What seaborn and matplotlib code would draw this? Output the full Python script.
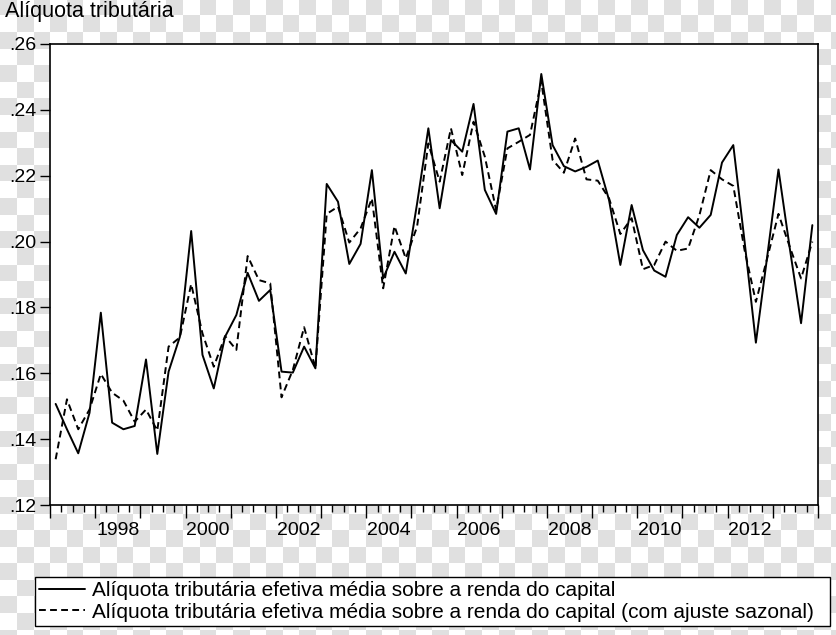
import numpy as np
import pandas as pd
import matplotlib
matplotlib.use("Agg")
import matplotlib.pyplot as plt
import seaborn as sns
from matplotlib.ticker import FixedLocator, FuncFormatter, NullFormatter

# ---------------- data ----------------
start_year = 1997
end_year = 2014
aliquota = [
    0.1507, 0.1430, 0.1357, 0.1480, 0.1784, 0.1450, 0.1430, 0.1440,
    0.1642, 0.1355, 0.1605, 0.1711, 0.2032, 0.1656, 0.1554, 0.1711,
    0.1777, 0.1905, 0.1820, 0.1853, 0.1605, 0.1602, 0.1681, 0.1615,
    0.2175, 0.2121, 0.1932, 0.1993, 0.2217, 0.1888, 0.1969, 0.1903,
    0.2115, 0.2344, 0.2101, 0.2308, 0.2273, 0.2418, 0.2157, 0.2084,
    0.2334, 0.2344, 0.2219, 0.2509, 0.2293, 0.2229, 0.2213, 0.2227,
    0.2246, 0.2126, 0.1929, 0.2111, 0.1974, 0.1912, 0.1893, 0.2020,
    0.2074, 0.2042, 0.2081, 0.2240, 0.2293, 0.2000, 0.1693, 0.1954,
    0.2219, 0.1980, 0.1752, 0.2050,
]
aliquota_sa = [
    0.1339, 0.1521, 0.1430, 0.1490, 0.1598, 0.1541, 0.1517, 0.1453,
    0.1490, 0.1426, 0.1681, 0.1709, 0.1871, 0.1721, 0.1620, 0.1713,
    0.1671, 0.1956, 0.1883, 0.1873, 0.1527, 0.1610, 0.1740, 0.1616,
    0.2084, 0.2106, 0.1997, 0.2040, 0.2131, 0.1858, 0.2047, 0.1949,
    0.2045, 0.2298, 0.2182, 0.2344, 0.2202, 0.2364, 0.2258, 0.2096,
    0.2283, 0.2303, 0.2324, 0.2486, 0.2248, 0.2209, 0.2313, 0.2189,
    0.2185, 0.2131, 0.2023, 0.2071, 0.1916, 0.1929, 0.2000, 0.1972,
    0.1979, 0.2080, 0.2217, 0.2189, 0.2169, 0.1974, 0.1817, 0.1949,
    0.2084, 0.1984, 0.1888, 0.2000,
]
label_solid = "Alíquota tributária efetiva média sobre a renda do capital"
label_dashed = "Alíquota tributária efetiva média sobre a renda do capital (com ajuste sazonal)"
axis_title = "Alíquota tributária"
yticks = [0.12, 0.14, 0.16, 0.18, 0.20, 0.22, 0.24, 0.26]
year_labels = [1998, 2000, 2002, 2004, 2006, 2008, 2010, 2012]

# quarter mid-points in year units
t = start_year + (np.arange(len(aliquota)) + 0.5) / 4.0
df = pd.DataFrame({"t": t, "solid": aliquota, "sa": aliquota_sa})

# ---------------- style ----------------
sns.set_theme(style="ticks")
plt.rcParams['font.family'] = ['Liberation Sans', 'DejaVu Sans']

W, H = 836, 635
fig = plt.figure(figsize=(W / 100, H / 100), dpi=100)
fig.patch.set_alpha(0)

# transparent-background checkerboard as in the reference image
yy, xx = np.mgrid[0:H, 0:W]
s = 16.6
rr = np.floor((yy - 15) / s)
cc = np.floor(xx / s)
gray = ((rr + cc) % 2 == 1)
img = np.where(gray, 0.88, 1.0)
fig.figimage(np.dstack([img, img, img]), xo=0, yo=0, origin='upper', zorder=-10)

ax = fig.add_axes([50 / W, (H - 505) / H, 768 / W, 461 / H])
ax.set_facecolor("white")

sns.lineplot(data=df, x="t", y="solid", ax=ax, color="black", linewidth=1.4,
             label=label_solid)
sns.lineplot(data=df, x="t", y="sa", ax=ax, color="black", linewidth=1.4,
             linestyle=(0, (3.5, 2.2)), label=label_dashed)

ax.set_xlim(start_year, end_year)
ax.set_ylim(0.12, 0.26)
ax.set_xlabel("")
ax.set_ylabel("")

ax.set_yticks(yticks)
ax.yaxis.set_major_formatter(FuncFormatter(lambda v, p: f"{v:.2f}"[1:]))

# major ticks at year boundaries (no labels), minor ticks at quarters,
# year labels on the mid-year minor ticks
ax.xaxis.set_major_locator(FixedLocator(list(range(start_year, end_year + 1))))
ax.xaxis.set_major_formatter(NullFormatter())
minor_pos = [y + q / 4 for y in range(start_year, end_year) for q in (1, 2, 3)]
ax.xaxis.set_minor_locator(FixedLocator(minor_pos))
lab_set = {y + 0.5: str(y) for y in year_labels}
ax.xaxis.set_minor_formatter(FuncFormatter(lambda v, p: lab_set.get(round(v, 2), "")))

for sp in ax.spines.values():
    sp.set_color("black")
    sp.set_linewidth(1.2)
    sp.set_visible(True)

ax.tick_params(axis="y", which="major", direction="out", length=7, width=1,
               color="black", labelsize=14, pad=3, left=True, right=False,
               labelcolor="black")
ax.tick_params(axis="x", which="major", direction="out", length=9, width=1,
               color="black", bottom=True, top=False)
ax.tick_params(axis="x", which="minor", direction="out", length=5, width=1,
               color="black", labelsize=14, pad=7, bottom=True, top=False,
               labelcolor="black")

fig.text(5 / W, 1 - 12 / H, axis_title, ha="left", va="center", fontsize=15.5,
         color="black")

handles, labels = ax.get_legend_handles_labels()
ax.get_legend().remove()
leg = fig.legend(handles, labels, loc="center",
                 bbox_to_anchor=(35 / W, 1 - 632 / H, 795 / W, 61 / H),
                 mode="expand", fontsize=15, frameon=True, fancybox=False,
                 edgecolor="black", framealpha=1, facecolor="white",
                 borderpad=0.2, handlelength=2.2, handletextpad=0.35,
                 labelspacing=0.1, borderaxespad=0)
leg.get_frame().set_linewidth(1.0)
for txt in leg.get_texts():
    txt.set_color("black")

fig.savefig("out.png", dpi=100)
